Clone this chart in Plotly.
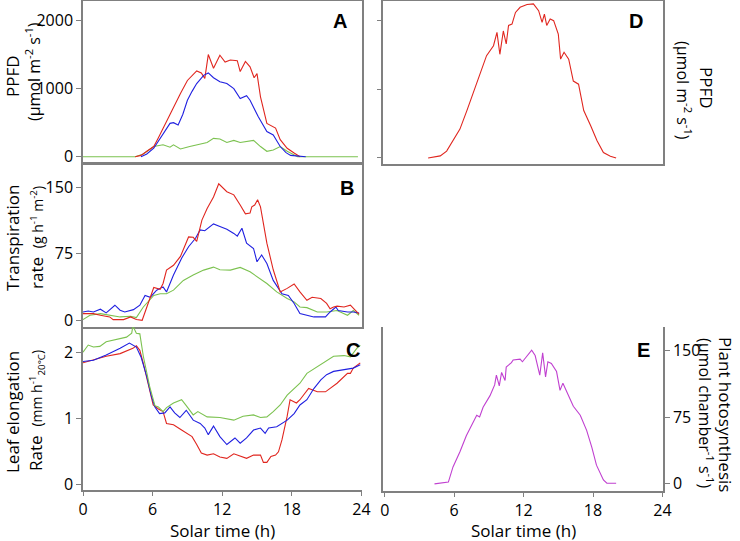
import plotly.graph_objects as go

# ---------------- data ----------------
# Panel A: PPFD (umol m-2 s-1)
t_a_red = [4.5, 5.0, 5.5, 6.1, 6.5, 6.9, 7.2, 7.8, 8.4, 9.0, 9.8, 10.2, 10.5, 10.8, 11.25, 11.8, 12.25, 12.7,
           13.3, 13.55, 14.0, 14.4, 14.75, 15.0, 15.3, 15.85, 16.6, 17.0, 17.6, 18.2, 18.7]
v_a_red = [0, 20, 80, 150, 280, 420, 520, 740, 930, 1120, 1260, 1230, 1150, 1500, 1300, 1490, 1390, 1420,
           1410, 1250, 1400, 1320, 1160, 1220, 880, 490, 420, 250, 125, 55, 0]
t_a_blue = [5.0, 5.5, 6.1, 6.5, 6.9, 7.5, 7.8, 8.2, 8.6, 9.0, 9.4, 9.8, 10.4, 10.8, 11.25, 11.8, 12.4, 13.0,
            13.55, 14.1, 14.4, 15.1, 15.85, 16.4, 17.0, 17.5, 17.9, 18.5, 19.2]
v_a_blue = [0, 40, 125, 230, 345, 490, 500, 465, 620, 830, 960, 1075, 1195, 1230, 1160, 1100, 1075, 1000,
            855, 895, 830, 590, 370, 320, 150, 60, 20, 10, 0]
t_a_green = [0, 4.5, 5.2, 6.1, 6.9, 7.5, 7.8, 8.4, 9.2, 10.1, 10.7, 11.25, 11.8, 12.4, 13.0, 13.55, 14.1,
             14.7, 15.3, 15.85, 16.4, 17.0, 17.6, 18.5, 23.7]
v_a_green = [0, 0, 40, 150, 175, 140, 175, 115, 150, 190, 210, 270, 260, 210, 240, 210, 225,
             240, 150, 80, 100, 150, 80, 0, 0]

# Panel B: transpiration rate (g h-1 m-2)
t_b_red = [0, 0.9, 1.5, 2.3, 2.6, 3.5, 4.1, 4.6, 5.1, 5.5, 6.1, 6.65, 6.9, 7.2, 7.8, 8.4, 9.1, 9.5, 9.8,
           10.25, 10.7, 11.25, 11.7, 12.4, 13.0, 13.55, 14.0, 14.4, 14.55, 14.8, 15.05, 15.3, 15.85, 16.4,
           17.0, 17.6, 18.2, 18.7, 19.3, 19.75, 20.5, 21.0, 21.3, 21.6, 21.9, 22.5, 23.05, 23.5, 23.8]
v_b_red = [7.5, 7.5, 5.7, 3.8, 0.8, 0.8, 3.8, 0.8, 0, 15, 37, 35, 41.5, 56.6, 62, 72, 94, 93.6, 89,
           113, 126, 139, 154, 145, 141.5, 130, 120, 121, 128, 130, 136, 128, 87, 57,
           32, 36, 41, 32, 22.6, 26, 24.5, 19, 13, 15, 16, 15, 17, 11, 7]
t_b_blue = [0, 0.45, 0.9, 1.5, 2.0, 2.75, 3.2, 3.6, 4.35, 4.9, 5.35, 5.8, 6.35, 6.9, 7.2, 7.8, 8.5, 9.1,
            9.7, 10.1, 10.5, 11.25, 11.8, 12.4, 13.0, 13.3, 13.7, 14.1, 14.7, 15.0, 15.4, 15.85, 16.4,
            17.15, 17.7, 18.2, 18.7, 19.3, 19.9, 20.9, 21.3, 21.8, 22.0, 22.8, 23.3, 23.8]
v_b_blue = [9.4, 10.5, 9.4, 12.5, 8.3, 17, 11.3, 9.4, 12, 17, 28, 26, 34, 37.7, 32, 51, 70, 83,
            92.5, 102, 101, 108.7, 105.7, 102.6, 98, 95, 103.8, 87, 81, 66, 73.6, 64, 45,
            30, 28, 19, 7.5, 5.7, 3.8, 3.8, 9.4, 15, 11, 9.4, 9.4, 8.3]
t_b_green = [0, 0.6, 1.5, 2.3, 3.2, 4.1, 4.6, 5.2, 6.1, 6.65, 7.2, 7.8, 8.65, 9.5, 10.4, 11.25, 11.8,
             12.7, 13.55, 14.4, 15.3, 15.85, 16.7, 17.6, 18.2, 18.7, 19.3, 20.2, 21.0, 21.9, 22.8, 23.3, 23.8]
v_b_green = [0.8, 5.7, 7.5, 5.7, 3.8, 4.5, 3, 15, 28, 30, 30, 34, 45, 51, 56.6, 60, 57,
             56.6, 59.6, 54.7, 47, 41.5, 32, 24.5, 20.8, 15, 14.3, 9.4, 9.4, 11, 5.7, 11, 5.7]

# Panel C: leaf elongation rate (mm h-1, 20 C)
t_c_red = [0, 0.9, 2.0, 3.2, 4.3, 4.6, 4.9, 5.2, 5.6, 6.05, 6.5, 6.9, 7.2, 7.8, 8.5, 8.9, 9.4, 9.8,
           10.2, 10.7, 11.25, 11.8, 12.4, 13.0, 13.55, 14.1, 14.7, 15.3, 15.55, 15.85, 16.2, 16.6, 16.85,
           17.15, 17.6, 17.85, 18.4, 18.7, 19.45, 20.2, 20.9, 21.3, 21.9, 22.8, 23.05, 23.3, 23.9]
v_c_red = [1.84, 1.89, 1.94, 1.98, 2.06, 2.1, 2.03, 1.83, 1.53, 1.2, 1.14, 1.1, 0.92, 0.9, 0.82, 0.77, 0.72, 0.6,
           0.47, 0.44, 0.46, 0.41, 0.39, 0.46, 0.42, 0.39, 0.44, 0.44, 0.33, 0.33, 0.42, 0.44, 0.49,
           0.67, 1.03, 1.28, 1.23, 1.28, 1.45, 1.4, 1.4, 1.45, 1.53, 1.68, 1.68, 1.76, 1.84]
t_c_blue = [0, 0.9, 2.0, 3.2, 4.0, 4.6, 5.0, 5.5, 5.9, 6.2, 6.6, 7.05, 7.5, 7.9, 8.35, 8.9, 9.5, 10.1,
            10.5, 10.8, 11.25, 11.8, 12.4, 12.8, 13.1, 13.55, 14.1, 14.7, 15.3, 15.7, 16.0, 16.7, 17.6,
            18.2, 18.7, 19.3, 19.9, 20.5, 21.0, 21.6, 22.5, 23.3, 23.9]
v_c_blue = [1.86, 1.88, 1.96, 2.06, 2.14, 2.08, 1.93, 1.63, 1.33, 1.17, 1.07, 1.08, 1.17, 1.08, 1.01, 1.12, 0.97, 0.92,
            0.85, 0.75, 0.88, 0.72, 0.6, 0.65, 0.7, 0.62, 0.7, 0.82, 0.85, 0.77, 0.85, 0.87, 0.97,
            1.07, 1.2, 1.28, 1.45, 1.58, 1.66, 1.71, 1.74, 1.76, 1.81]
t_c_green = [0, 0.45, 0.9, 1.45, 2.0, 2.9, 3.75, 4.2, 4.3, 4.6, 4.9, 5.2, 5.75, 6.2, 6.5, 6.9, 7.2, 7.8,
             8.5, 8.9, 9.5, 9.9, 10.7, 11.8, 13.0, 13.8, 14.7, 15.3, 15.85, 16.4, 17.0, 17.6, 18.2, 18.7,
             19.3, 20.2, 21.0, 21.6, 22.5, 23.05, 23.6, 23.9]
v_c_green = [2.0, 2.11, 2.08, 2.09, 2.16, 2.2, 2.23, 2.29, 2.4, 2.29, 2.28, 1.94, 1.48, 1.19, 1.17, 1.1, 1.16, 1.23,
             1.28, 1.19, 1.05, 1.1, 1.02, 1.01, 0.97, 1.03, 1.05, 1.01, 1.02, 1.1, 1.2, 1.35, 1.45, 1.53,
             1.68, 1.78, 1.86, 1.94, 1.95, 1.93, 2.06, 2.11]

# Panel D: PPFD in growth chamber
t_d = [3.75, 4.8, 5.35, 5.9, 6.5, 7.1, 7.95, 8.8, 9.4, 9.7, 9.95, 10.25, 10.5, 10.7, 11.0, 11.3, 11.7, 12.3,
       12.85, 13.3, 13.6, 13.8, 14.0, 14.3, 14.6, 15.0, 15.2, 15.5, 15.9, 16.3, 16.75, 17.2, 17.8, 18.35,
       18.9, 19.5, 20.0]
v_d = [0, 30, 100, 250, 420, 690, 1075, 1490, 1635, 1830, 1510, 1850, 1660, 1930, 1950, 2120, 2195, 2235,
       2245, 2145, 1975, 2095, 1930, 2025, 2000, 1805, 1440, 1540, 1440, 1120, 1075, 690, 470, 250,
       80, 25, 0]

# Panel E: plant photosynthesis (umol chamber-1 s-1)
t_e = [4.3, 5.5, 5.9, 6.5, 7.05, 7.65, 7.95, 8.2, 8.5, 9.1, 9.5, 9.65, 9.9, 10.1, 10.4, 10.5, 10.95, 11.1,
       11.7, 11.9, 12.25, 12.7, 13.0, 13.4, 13.65, 13.9, 14.1, 14.4, 14.85, 15.15, 15.4, 15.85, 16.3, 16.9,
       17.45, 17.9, 18.3, 18.9, 19.2, 20.0]
v_e = [0, 2, 19, 36, 54, 69, 77, 75, 86, 99, 111, 122, 110, 125, 116, 131, 136, 139,
       140, 137, 143, 150, 144, 122, 147, 120, 137, 135, 126, 105, 113, 99, 87, 77,
       60, 41, 21, 4.5, 0.75, 0.75]

x_ticks = [0, 6, 12, 18, 24]
a_ticks = [0, 1000, 2000]
b_ticks = [0, 75, 150]
c_ticks = [0, 1, 2]
e_ticks = [0, 75, 150]

# ---------------- styling ----------------
RED = "#e0261f"
BLUE = "#2020e0"
GREEN = "#7cc250"
PURPLE = "#c040d0"
AX = "#808080"
FONT = "Open Sans"
W, H = 740, 541


def px(x):
    return x / W


def py(y):
    return 1 - y / H


fig = go.Figure()


def line(t, v, color, xa, ya):
    fig.add_trace(go.Scatter(x=t, y=v, mode="lines", line=dict(color=color, width=1.1),
                             xaxis=xa, yaxis=ya, showlegend=False, hoverinfo="skip"))


line(t_a_green, v_a_green, GREEN, "x", "y")
line(t_a_red, v_a_red, RED, "x", "y")
line(t_a_blue, v_a_blue, BLUE, "x", "y")
line(t_b_green, v_b_green, GREEN, "x2", "y2")
line(t_b_blue, v_b_blue, BLUE, "x2", "y2")
line(t_b_red, v_b_red, RED, "x2", "y2")
line(t_c_red, v_c_red, RED, "x3", "y3")
line(t_c_blue, v_c_blue, BLUE, "x3", "y3")
line(t_c_green, v_c_green, GREEN, "x3", "y3")
line(t_d, v_d, RED, "x4", "y4")
line(t_e, v_e, PURPLE, "x5", "y5")

ytickfont = dict(family=FONT, size=16, color="black")
xtickfont = dict(family=FONT, size=16, color="black")
left_dom = [px(83), px(362)]
right_dom = [px(383), px(663)]
ya_dom = [py(162.75), py(0.75)]
yb_dom = [py(326.5), py(164.25)]
yc_dom = [py(490), py(327.25)]
yd_dom = [py(164), py(0.75)]
ye_dom = [py(491), py(327)]

base_line = dict(showline=True, linecolor=AX, linewidth=1.5, showgrid=False, zeroline=False,
                 automargin=False)

fig.update_layout(
    width=W, height=H, margin=dict(l=0, r=0, t=0, b=0, pad=0),
    paper_bgcolor="white", plot_bgcolor="white",
    font=dict(family=FONT, color="black"),
    xaxis=dict(domain=left_dom, anchor="y", range=[0, 24.05], showticklabels=False, ticks="",
               mirror=True, **base_line),
    yaxis=dict(domain=ya_dom, anchor="x", range=[-88, 2290], tickvals=a_ticks, ticks="outside",
               ticklen=5, tickcolor=AX, tickfont=ytickfont, mirror=True, **base_line),
    xaxis2=dict(domain=left_dom, anchor="y2", range=[0, 24.05], showticklabels=False, ticks="",
                mirror=True, **base_line),
    yaxis2=dict(domain=yb_dom, anchor="x2", range=[-7, 176], tickvals=b_ticks, ticks="outside",
                ticklen=5, tickcolor=AX, tickfont=ytickfont, mirror=True, **base_line),
    xaxis3=dict(domain=left_dom, anchor="y3", range=[0, 24.05], tickvals=x_ticks, ticks="outside",
                ticklen=4, tickcolor=AX, tickfont=xtickfont, mirror=False, **base_line),
    yaxis3=dict(domain=yc_dom, anchor="x3", range=[-0.09, 2.38], tickvals=c_ticks, ticks="outside",
                ticklen=5, tickcolor=AX, tickfont=ytickfont, mirror=False, **base_line),
    xaxis4=dict(domain=right_dom, anchor="y4", range=[-0.15, 24.05], showticklabels=False, ticks="",
                mirror=True, **base_line),
    yaxis4=dict(domain=yd_dom, anchor="x4", range=[-88, 2290], tickvals=a_ticks, ticks="outside",
                ticklen=4, tickcolor=AX, showticklabels=False, mirror=True, **base_line),
    xaxis5=dict(domain=right_dom, anchor="y5", range=[-0.15, 24.05], tickvals=x_ticks, ticks="outside",
                ticklen=4, tickcolor=AX, tickfont=xtickfont, mirror=False, **base_line),
    yaxis5=dict(domain=ye_dom, anchor="x5", side="right", range=[-8, 176], tickvals=e_ticks,
                ticks="outside", ticklen=5, tickcolor=AX, tickfont=ytickfont, mirror=True, **base_line),
)

ann = []


def text(x, y, s, size=17, angle=0, family=FONT):
    ann.append(dict(x=px(x), y=py(y), xref="paper", yref="paper", text=s, showarrow=False,
                    textangle=angle, xanchor="center", yanchor="middle",
                    font=dict(family=family, size=size, color="black")))


# panel letters
for lx, ly, s in [(340, 21, "A"), (347, 188, "B"), (353, 350, "C"), (636, 21, "D"), (643, 350, "E")]:
    text(lx, ly, "<b>%s</b>" % s, size=20, family="Liberation Sans")

small = '<span style="font-size:14px">%s</span>'
# left axis titles
text(12, 76, "PPFD", angle=-90)
text(33, 72, "(µmol m<sup>-2</sup> s<sup>-1</sup>)", size=16, angle=-90)
text(12, 238, "Transpiration", angle=-90)
text(36, 238, "rate\u00a0 " + small % "(g h<sup>-1</sup> m<sup>-2</sup>)", angle=-90)
text(12, 412, "Leaf elongation", angle=-90)
text(36, 411, "Rate\u00a0 " + small % "(mm h<sup>-1</sup><sub>20°C</sub>)", angle=-90)
# right axis titles
text(707, 88, "PPFD", angle=90)
text(684, 90, "(µmol m<sup>-2</sup> s<sup>-1</sup>)", size=16, angle=90)
text(726, 414, "Plant hotosynthesis", angle=90)
text(706, 413, "(µmol chamber<sup>-1</sup> s<sup>-1</sup>)", size=16, angle=90)
# x axis titles
text(222, 530.5, "Solar time (h)", size=17)
text(523, 530.5, "Solar time (h)", size=17)

fig.update_layout(annotations=ann)
fig.write_html("out.html", config={"displayModeBar": False},
               post_script="document.body.style.margin='0';document.body.style.overflow='hidden';")
